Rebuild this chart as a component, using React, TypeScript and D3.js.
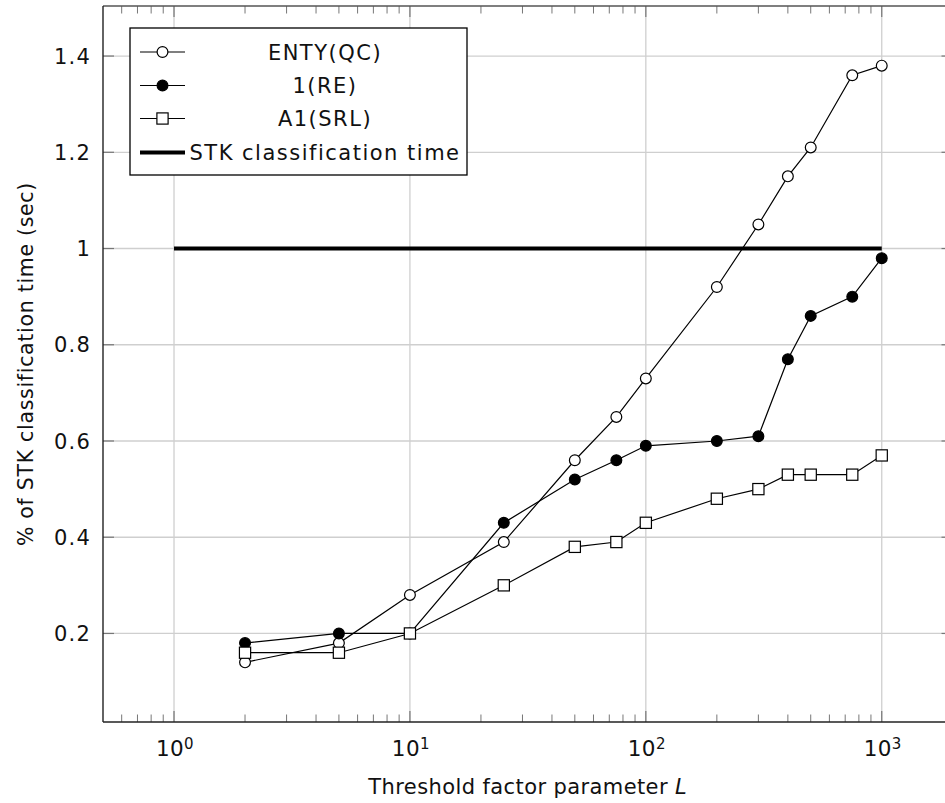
import React from "react";
import * as d3 from "d3";

const xValues = [2, 5, 10, 25, 50, 75, 100, 200, 300, 400, 500, 750, 1000];
const entyQC = [0.14, 0.18, 0.28, 0.39, 0.56, 0.65, 0.73, 0.92, 1.05, 1.15, 1.21, 1.36, 1.38];
const oneRE = [0.18, 0.2, 0.2, 0.43, 0.52, 0.56, 0.59, 0.6, 0.61, 0.77, 0.86, 0.9, 0.98];
const a1SRL = [0.16, 0.16, 0.2, 0.3, 0.38, 0.39, 0.43, 0.48, 0.5, 0.53, 0.53, 0.53, 0.57];
const stkX = [1, 1000];
const stkY = [1, 1];
const yTicks = [0.2, 0.4, 0.6, 0.8, 1, 1.2, 1.4];
const xTickExps = [0, 1, 2, 3];
const legendLabels = ["ENTY(QC)", "1(RE)", "A1(SRL)", "STK classification time"];

const FONT = "'DejaVu Sans', sans-serif";

export default function App() {
  const W = 945, H = 803;
  const left = 103, right = 952.5, top = 6, bottom = 722;
  const x = d3.scaleLog().domain([0.5, 1995]).range([left, right]);
  const y = d3.scaleLinear().domain([0.016, 1.504]).range([bottom, top]);

  const line = d3.line<[number, number]>().x(d => x(d[0])).y(d => y(d[1]));
  const pts = (ys: number[]) => xValues.map((v, i) => [v, ys[i]] as [number, number]);

  const minorTicks: number[] = [];
  for (let e = -1; e <= 3; e++) {
    for (let k = 2; k <= 9; k++) {
      const v = k * Math.pow(10, e);
      if (v > 0.5 && v < 1995) minorTicks.push(v);
    }
  }
  const gridColor = "#cfcfcf";
  const axisColor = "#222";
  const major = 11, minor = 7.5;

  const circle = (cx: number, cy: number, filled: boolean, key: string) => (
    <circle key={key} cx={cx} cy={cy} r={5.4} fill={filled ? "#000" : "#fff"} stroke="#000" strokeWidth={1.2} />
  );
  const square = (cx: number, cy: number, key: string) => (
    <rect key={key} x={cx - 5.6} y={cy - 5.6} width={11.2} height={11.2} fill="#fff" stroke="#000" strokeWidth={1.2} />
  );

  const legX = 130, legY = 28, legW = 337, legH = 147;
  const rowY = [52, 85.5, 118.5, 152.5];
  const symX0 = 140, symX1 = 185, symC = 162.5, textC = 325;

  return (
    <svg width={W} height={H} style={{ position: "absolute", left: 0, top: 0, background: "#fff" }} fontFamily={FONT}>
      <rect x={0} y={0} width={W} height={H} fill="#fff" />
      {/* grid */}
      {xTickExps.map(e => (
        <line key={"gx" + e} x1={x(Math.pow(10, e))} x2={x(Math.pow(10, e))} y1={top} y2={bottom} stroke={gridColor} strokeWidth={1.3} />
      ))}
      {yTicks.map(t => (
        <line key={"gy" + t} x1={left} x2={right} y1={y(t)} y2={y(t)} stroke={gridColor} strokeWidth={1.3} />
      ))}
      {/* ticks */}
      {minorTicks.map(v => (
        <g key={"mt" + v}>
          <line x1={x(v)} x2={x(v)} y1={bottom} y2={bottom - minor} stroke="#777" strokeWidth={1} />
          <line x1={x(v)} x2={x(v)} y1={top} y2={top + minor} stroke="#777" strokeWidth={1} />
        </g>
      ))}
      {xTickExps.map(e => (
        <g key={"xt" + e}>
          <line x1={x(Math.pow(10, e))} x2={x(Math.pow(10, e))} y1={bottom} y2={bottom - major} stroke="#777" strokeWidth={1.2} />
          <line x1={x(Math.pow(10, e))} x2={x(Math.pow(10, e))} y1={top} y2={top + major} stroke="#777" strokeWidth={1.2} />
        </g>
      ))}
      {yTicks.map(t => (
        <g key={"yt" + t}>
          <line x1={left} x2={left + major} y1={y(t)} y2={y(t)} stroke="#777" strokeWidth={1.2} />
          <line x1={right} x2={right - major} y1={y(t)} y2={y(t)} stroke="#777" strokeWidth={1.2} />
        </g>
      ))}
      {/* axes */}
      <line x1={left} x2={right} y1={bottom} y2={bottom} stroke={axisColor} strokeWidth={1.4} />
      <line x1={left} x2={right} y1={top} y2={top} stroke="#555" strokeWidth={1.4} />
      <line x1={left} x2={left} y1={top} y2={bottom} stroke={axisColor} strokeWidth={1.4} />
      <line x1={right} x2={right} y1={top} y2={bottom} stroke={axisColor} strokeWidth={1.4} />

      {/* tick labels */}
      {yTicks.map(t => (
        <text key={"yl" + t} x={91} y={y(t)} dy="0.36em" textAnchor="end" fontSize={21} letterSpacing={1.2} fill="#111">
          {d3.format("~g")(t)}
        </text>
      ))}
      {xTickExps.map(e => (
        <text key={"xl" + e} x={x(Math.pow(10, e)) + 1} y={756} textAnchor="middle" fontSize={21.5} letterSpacing={0.4} fill="#111">
          10<tspan dy={-7} fontSize={15}>{e}</tspan>
        </text>
      ))}

      {/* axis labels */}
      <text x={(left + right) / 2} y={794} textAnchor="middle" fontSize={21} letterSpacing={0.4} fill="#111">
        Threshold factor parameter <tspan fontStyle="italic">L</tspan>
      </text>
      <text transform={`translate(33,${(top + bottom) / 2}) rotate(-90)`} textAnchor="middle" fontSize={20.5} letterSpacing={0.7} fill="#111">
        % of STK classification time (sec)
      </text>

      {/* STK line */}
      <path d={line(stkX.map((v, i) => [v, stkY[i]] as [number, number])) || ""} fill="none" stroke="#000" strokeWidth={4} />

      {/* series */}
      <path d={line(pts(entyQC)) || ""} fill="none" stroke="#000" strokeWidth={1.2} />
      {pts(entyQC).map((p, i) => circle(x(p[0]), y(p[1]), false, "e" + i))}
      <path d={line(pts(oneRE)) || ""} fill="none" stroke="#000" strokeWidth={1.2} />
      {pts(oneRE).map((p, i) => circle(x(p[0]), y(p[1]), true, "r" + i))}
      <path d={line(pts(a1SRL)) || ""} fill="none" stroke="#000" strokeWidth={1.2} />
      {pts(a1SRL).map((p, i) => square(x(p[0]), y(p[1]), "s" + i))}

      {/* legend */}
      <rect x={legX} y={legY} width={legW} height={legH} fill="#fff" stroke="#000" strokeWidth={1.3} />
      {legendLabels.map((lab, i) => (
        <g key={"lg" + i}>
          <line x1={symX0} x2={symX1} y1={rowY[i]} y2={rowY[i]} stroke="#000" strokeWidth={i === 3 ? 4 : 1.2} />
          {i === 0 && circle(symC, rowY[i], false, "lc0")}
          {i === 1 && circle(symC, rowY[i], true, "lc1")}
          {i === 2 && square(symC, rowY[i], "lc2")}
          <text x={textC} y={rowY[i]} dy="0.36em" textAnchor="middle" fontSize={21} letterSpacing={1.5} fill="#111">
            {lab}
          </text>
        </g>
      ))}
    </svg>
  );
}
